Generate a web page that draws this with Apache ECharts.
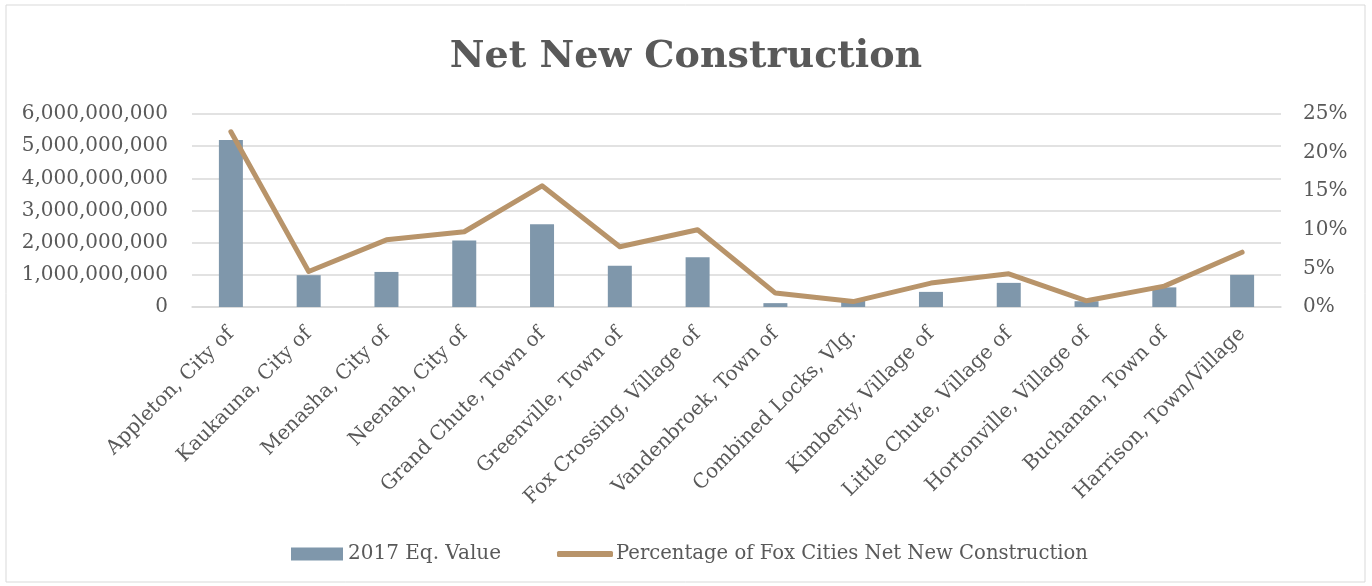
<!DOCTYPE html>
<html><head><meta charset="utf-8">
<script src="https://cdn.jsdelivr.net/npm/echarts@6/dist/echarts.min.js"></script>
<style>html,body{margin:0;padding:0;background:#fff}#c{width:1372px;height:586px}</style>
</head><body><div id="c"></div>
<script>
const categories = ["Appleton, City of","Kaukauna, City of","Menasha, City of","Neenah, City of","Grand Chute, Town of","Greenville, Town of","Fox Crossing, Village of","Vandenbroek, Town of","Combined Locks, Vlg.","Kimberly, Village of","Little Chute, Village of","Hortonville, Village of","Buchanan, Town of","Harrison, Town/Village"];
const eqValue = [5190000000,990000000,1090000000,2070000000,2570000000,1280000000,1550000000,120000000,240000000,470000000,750000000,180000000,610000000,1000000000];
const pctNewConstruction = [0.227,0.046,0.087,0.0975,0.157,0.078,0.100,0.018,0.007,0.031,0.043,0.008,0.027,0.071];
const seriesNames = ["2017 Eq. Value","Percentage of Fox Cities Net New Construction"];
const titleText = "Net New Construction";

const FONT = "'DejaVu Serif', serif";
const TXT = "#595959";
const chart = echarts.init(document.getElementById('c'), null, {renderer:'canvas'});
chart.setOption({
  animation:false,
  backgroundColor:'#fff',
  graphic:[{type:'rect',shape:{x:6,y:5,width:1359,height:577},style:{fill:'none',stroke:'#d9d9d9',lineWidth:1},silent:true}],
  title:{text:titleText,left:'center',top:33,textStyle:{fontFamily:FONT,fontWeight:'bold',fontSize:38,color:TXT}},
  legend:[
    {top:542,left:291,padding:0,itemWidth:52,itemHeight:13,
     textStyle:{fontFamily:FONT,fontSize:20,color:TXT,lineHeight:24},
     data:[{name:seriesNames[0],icon:'rect'}]},
    {top:542,left:557,padding:0,itemWidth:56,itemHeight:6,
     textStyle:{fontFamily:FONT,fontSize:19.6,color:TXT,lineHeight:24,padding:[0,0,0,-2]},
     data:[{name:seriesNames[1],icon:'roundRect'}]}
  ],
  grid:{left:192,right:91,top:114,bottom:279,containLabel:false},
  xAxis:{type:'category',data:categories,
    axisLine:{lineStyle:{color:'#d9d9d9',width:1.5}},axisTick:{show:false},
    axisLabel:{rotate:45,interval:0,margin:24,fontFamily:FONT,fontSize:20,color:TXT}},
  yAxis:[
    {type:'value',min:0,max:6000000000,interval:1000000000,
     axisLine:{show:false},axisTick:{show:false},
     splitLine:{lineStyle:{color:'#d9d9d9',width:1.5}},
     axisLabel:{margin:24,fontFamily:FONT,fontSize:20,color:TXT,
       formatter:v=>v.toLocaleString('en-US')}},
    {type:'value',min:0,max:0.25,interval:0.05,
     axisLine:{show:false},axisTick:{show:false},splitLine:{show:false},
     axisLabel:{margin:22,fontFamily:FONT,fontSize:20,color:TXT,
       formatter:v=>Math.round(v*100)+'%'}}
  ],
  series:[
    {name:seriesNames[0],type:'bar',data:eqValue,barWidth:24,itemStyle:{color:'#7f97ab'}},
    {name:seriesNames[1],type:'line',yAxisIndex:1,data:pctNewConstruction,symbol:'none',
     lineStyle:{color:'#b8946a',width:5,cap:'round',join:'round'},itemStyle:{color:'#b8946a'}}
  ]
});
</script></body></html>
